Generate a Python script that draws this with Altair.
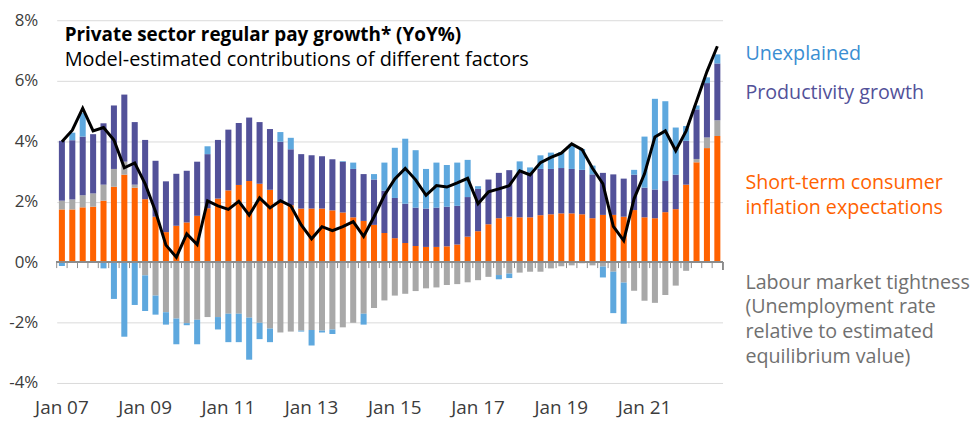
import altair as alt
import pandas as pd

# ---- data (quarterly, Jan 2007 .. Oct 2022) ----
years = list(range(2007, 2023))
months = ["Jan", "Apr", "Jul", "Oct"]
quarters = [f"{m} {y % 100:02d}" for y in years for m in months]

inflation_expectations = [1.74,1.74,1.81,1.83,2.03,2.49,2.89,2.46,2.08,1.50,
    0.99,1.20,1.31,1.53,1.78,2.10,2.37,2.55,2.68,2.59,
    2.39,1.96,1.88,1.77,1.77,1.77,1.71,1.64,1.48,1.36,
    1.23,0.96,0.79,0.63,0.53,0.50,0.50,0.52,0.58,0.84,
    1.02,1.25,1.45,1.50,1.48,1.48,1.55,1.58,1.61,1.61,
    1.58,1.45,1.56,1.56,1.50,1.72,1.48,1.45,1.65,1.75,
    2.56,3.30,3.77,4.17]

labour_market = [0.29,0.33,0.40,0.44,0.53,0.59,0.43,0.10,-0.44,-1.11,
    -1.66,-1.87,-2.02,-1.91,-1.82,-1.82,-1.71,-1.71,-1.84,-2.01,
    -2.20,-2.33,-2.30,-2.27,-2.25,-2.27,-2.23,-2.16,-2.01,-1.71,
    -1.52,-1.27,-1.11,-1.05,-0.96,-0.87,-0.84,-0.76,-0.73,-0.67,
    -0.60,-0.49,-0.43,-0.38,-0.35,-0.32,-0.32,-0.21,-0.14,-0.11,
    -0.04,-0.11,-0.15,-0.32,-0.68,-0.95,-1.28,-1.35,-1.09,-0.78,
    -0.29,0.11,0.35,0.52]

productivity = [1.98,1.96,1.94,1.96,2.03,2.10,2.22,2.07,1.96,1.85,
    1.68,1.72,1.71,1.79,1.79,1.94,2.01,2.05,2.10,2.04,
    2.01,2.02,1.85,1.80,1.76,1.73,1.69,1.68,1.60,1.55,
    1.50,1.40,1.33,1.30,1.27,1.27,1.30,1.31,1.28,1.31,
    1.40,1.48,1.50,1.54,1.49,1.49,1.53,1.50,1.50,1.47,
    1.47,1.45,1.39,1.34,1.26,1.17,0.98,0.95,1.03,1.14,
    1.45,1.64,1.80,1.88]

unexplained = [-0.13,0.25,0.79,0.00,-0.21,-1.22,-2.47,-1.42,-1.18,-0.63,
    -0.41,-0.85,-0.07,-0.81,0.26,-0.41,-0.94,-0.94,-1.39,-0.54,
    -0.45,0.32,0.38,-0.03,-0.51,-0.06,-0.15,0.02,0.21,-0.36,
    0.18,0.93,1.66,2.15,1.90,1.31,1.49,1.38,1.43,1.23,
    0.09,0.00,-0.14,-0.15,0.36,0.16,0.45,0.54,0.53,0.83,
    0.69,0.29,-0.36,-1.37,-1.36,0.16,1.69,3.00,2.64,1.56,
    0.49,0.13,0.19,0.30]

pay_growth = [3.98,4.36,5.09,4.34,4.45,4.04,3.12,3.28,2.59,1.67,
    0.56,0.16,0.93,0.58,2.02,1.86,1.74,2.01,1.55,2.12,
    1.79,2.03,1.86,1.23,0.77,1.17,1.04,1.17,1.34,0.85,
    1.50,2.21,2.75,3.10,2.72,2.21,2.53,2.48,2.62,2.77,
    1.93,2.32,2.42,2.53,3.02,2.88,3.29,3.46,3.60,3.91,
    3.72,3.10,2.59,1.18,0.71,2.10,2.92,4.14,4.34,3.68,
    4.34,5.32,6.30,7.14]

components = ["Short-term consumer inflation expectations", "Labour market tightness",
              "Productivity growth", "Unexplained"]
series = [inflation_expectations, labour_market, productivity, unexplained]
bar_colors = ["#FF6200", "#A8A8A8", "#525199", "#5EA8DE"]

x_labels = [q for q in quarters if q.startswith("Jan") and int(q[-2:]) % 2 == 1]

# ---- tables ----
rows = []
for k, (name, vals) in enumerate(zip(components, series)):
    for q, v in zip(quarters, vals):
        rows.append({"quarter": q, "component": name, "value": v, "order": k})
bars_df = pd.DataFrame(rows)
line_df = pd.DataFrame({"quarter": quarters, "pay": pay_growth})
ticks_df = pd.DataFrame({"quarter": quarters})

FONT = "Open Sans"
W, H = 670, 365
TOP = 11
STEP = W / len(quarters)

x_enc = alt.X("quarter:N", sort=quarters,
              scale=alt.Scale(paddingInner=0.42, paddingOuter=0.21),
              axis=alt.Axis(values=x_labels, title=None, ticks=False, tickSize=0,
                            domain=False, labelAngle=0, labelPadding=16,
                            labelFont=FONT, labelFontSize=19, labelColor="#3c3c3c"))
y_scale = alt.Scale(domain=[-4, 8], nice=False)

bars = alt.Chart(bars_df).mark_bar().encode(
    x=x_enc,
    y=alt.Y("value:Q", stack="zero", scale=y_scale,
            axis=alt.Axis(values=[-4, -2, 0, 2, 4, 6, 8], title=None, ticks=False,
                          tickSize=0, domain=False, labelPadding=19,
                          labelExpr="datum.value + '%'",
                          labelFont=FONT, labelFontSize=17, labelColor="#3c3c3c",
                          grid=True, gridColor="#dadada", gridWidth=1)),
    color=alt.Color("component:N", scale=alt.Scale(domain=components, range=bar_colors),
                    legend=None),
    order=alt.Order("order:Q", sort="ascending"),
)

zero_line = alt.Chart(ticks_df).mark_rule(color="#8c8c8c", strokeWidth=1.3).encode(
    y=alt.datum(0)
)

ticks = alt.Chart(ticks_df).mark_rule(color="#8c8c8c", strokeWidth=1, xOffset=-STEP / 2).encode(
    x=alt.X("quarter:N", sort=quarters),
    y=alt.datum(0),
    y2=alt.datum(-0.2),
)
end_tick = alt.Chart(ticks_df).mark_rule(color="#8c8c8c", strokeWidth=1).encode(
    x=alt.value(W), y=alt.datum(0), y2=alt.datum(-0.25)
)

line = alt.Chart(line_df).mark_line(color="#000000", strokeWidth=3, strokeJoin="miter").encode(
    x=alt.X("quarter:N", sort=quarters),
    y=alt.Y("pay:Q"),
)

def label(text, px, page_y, color, size=19.8, weight="normal"):
    return alt.Chart(ticks_df.head(1)).mark_text(
        text=text, align="left", baseline="middle", font=FONT, fontSize=size,
        fontWeight=weight, color=color
    ).encode(x=alt.value(px), y=alt.value(page_y - 8 - TOP))

texts = [
    label("Private sector regular pay growth* (YoY%)", 8, 34, "#000000", 19, "bold"),
    label("Model-estimated contributions of different factors", 8, 59.5, "#000000", 20),
    label("Unexplained", 693, 53, "#3A8ED2"),
    label("Productivity growth", 693, 92, "#525199"),
    label("Short-term consumer", 693, 183, "#FF6200"),
    label("inflation expectations", 693, 208, "#FF6200"),
    label("Labour market tightness", 693, 283, "#707070"),
    label("(Unemployment rate", 693, 308, "#707070"),
    label("relative to estimated", 693, 333, "#707070"),
    label("equilibrium value)", 693, 358, "#707070"),
]

chart = alt.layer(bars, zero_line, ticks, end_tick, line, *texts).properties(
    width=W, height=H,
    autosize=alt.AutoSizeParams(type="none"),
    padding={"left": 49, "top": TOP, "right": 250, "bottom": 40},
).configure_view(stroke=None)

chart.save("out.html", embed_options={"renderer": "svg", "actions": False})
